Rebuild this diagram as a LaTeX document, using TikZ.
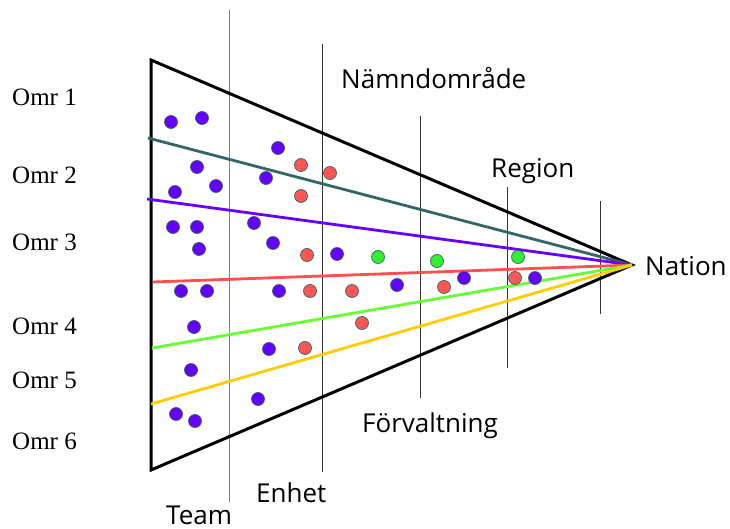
\documentclass[tikz,border=0pt]{standalone}
\usepackage{fontspec}
\setmainfont{Liberation Serif}
\newfontfamily\levelfont{Open Sans}
\usetikzlibrary{positioning}
\definecolor{slateline}{HTML}{336666}
\definecolor{violetline}{HTML}{6600FF}
\definecolor{redline}{HTML}{FF5050}
\definecolor{greenline}{HTML}{66FF33}
\definecolor{yellowline}{HTML}{FFCC00}
\definecolor{dotred}{HTML}{FF5555}
\definecolor{dotgreen}{HTML}{33EE33}

\begin{document}
\begin{tikzpicture}[x=1pt, y=-1pt,
  omrlabel/.style={anchor=base west, inner sep=0pt, font=\fontsize{25}{30}\selectfont},
  levellabel/.style={anchor=base west, inner sep=0pt, font=\levelfont\fontsize{26}{30}\selectfont},
  divider/.style={line width=1pt, black!80},
  split/.style={line width=2.8pt},
  dot/.style={circle, draw=slateline, line width=0.7pt, minimum size=13pt, inner sep=0pt},
  pdot/.style={dot, fill=violetline},
  rdot/.style={dot, fill=dotred},
  gdot/.style={dot, fill=dotgreen}
]
  \useasboundingbox (0,0) rectangle (730,529);

  % levels
  \draw[divider, black!50] (229,10) coordinate (teamtop) -- (229,502) coordinate (teambot);
  \draw[divider] (322,44) coordinate (enhtop) -- (322,472) coordinate (enhbot);
  \draw[divider] (420,116) coordinate (fortop) -- (420,398) coordinate (forbot);
  \draw[divider] (507,187) coordinate (regtop) -- (507,368) coordinate (regbot);
  \draw[divider] (600,201) coordinate (nattop) -- (600,314) coordinate (natbot);

  % triangle
  \coordinate (tl) at (151,60);
  \coordinate (bl) at (151,470);
  \coordinate (apex) at (632,265);
  \draw[line width=3pt, line join=miter] (tl) -- (apex) -- (bl) -- cycle;

  % area borders
  \coordinate (b12) at (148,138);
  \coordinate (b23) at (147,199);
  \coordinate (b34) at (153,282);
  \coordinate (b45) at (152,348);
  \coordinate (b56) at (151,404);
  \draw[split, slateline] (b12) -- (apex);
  \draw[split, violetline] (b23) -- (apex);
  \draw[split, redline] (b34) -- (apex);
  \draw[split, greenline] (b45) -- (apex);
  \draw[split, yellowline] (b56) -- (apex);

  % units
  \foreach \x/\y [count=\i] in {171/122, 202/118, 278/148, 197/167, 266/178, 216/186,
      175/192, 173/227, 197/227, 254/223, 273/243, 199/249, 337/254, 181/291, 207/291,
      279/291, 194/327, 269/349, 191/370, 258/399, 176/414, 195/421, 397/285, 464/278, 535/278}
    \node[pdot] (p\i) at (\x,\y) {};
  \foreach \x/\y [count=\i] in {301/165, 330/173, 301/196, 307/255, 310/291, 352/291,
      362/323, 305/348, 444/287, 515/278}
    \node[rdot] (r\i) at (\x,\y) {};
  \foreach \x/\y [count=\i] in {378/257, 437/261, 518/257}
    \node[gdot] (g\i) at (\x,\y) {};

  % labels
  \node[omrlabel] (omr1) at (12,105.5) {Omr 1};
  \node[omrlabel] (omr2) at (12,184) {Omr 2};
  \node[omrlabel] (omr3) at (12,250.5) {Omr 3};
  \node[omrlabel] (omr4) at (12,334) {Omr 4};
  \node[omrlabel] (omr5) at (12,388.5) {Omr 5};
  \node[omrlabel] (omr6) at (12,449.5) {Omr 6};

  \node[levellabel] (team) at (166,524) {Team};
  \node[levellabel] (enhet) at (256,502) {Enhet};
  \node[levellabel] (namnd) at (341,89) {Nämndområde};
  \node[levellabel] (forv) at (362,432) {Förvaltning};
  \node[levellabel] (region) at (491,178) {Region};
  \node[levellabel] (nation) at (645,275) {Nation};
\end{tikzpicture}
\end{document}
